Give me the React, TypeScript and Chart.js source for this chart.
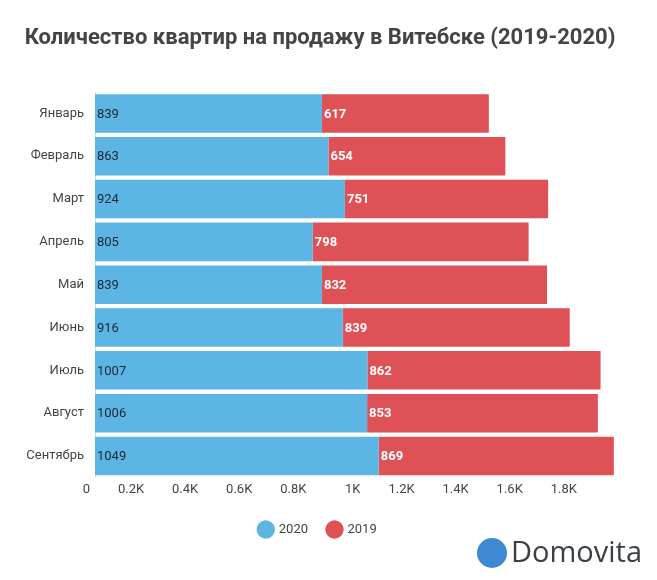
import React, { useEffect, useRef } from "react";
import { Chart, registerables } from "chart.js";

Chart.register(...registerables);

const months = ["Январь", "Февраль", "Март", "Апрель", "Май", "Июнь", "Июль", "Август", "Сентябрь"];
const values2020 = [839, 863, 924, 805, 839, 916, 1007, 1006, 1049];
const values2019 = [617, 654, 751, 798, 832, 839, 862, 853, 869];
const xTicks = [0, 200, 400, 600, 800, 1000, 1200, 1400, 1600, 1800];

const titleText = "Количество квартир на продажу в Витебске (2019-2020)";
const BLUE = "#5db5e4";
const RED = "#dd5157";

const extras = {
  id: "extras",
  afterDatasetsDraw(chart: any) {
    const ctx = chart.ctx;
    ctx.save();
    chart.data.datasets.forEach((ds: any, di: number) => {
      const meta = chart.getDatasetMeta(di);
      meta.data.forEach((bar: any, i: number) => {
        const base = bar.base;
        ctx.textBaseline = "middle";
        ctx.textAlign = "left";
        if (di === 0) {
          ctx.font = "13px Roboto";
          ctx.fillStyle = "#1b2733";
        } else {
          ctx.font = "bold 13px Roboto";
          ctx.fillStyle = "#ffffff";
        }
        ctx.fillText(String(ds.data[i]), Math.min(base, bar.x) + 2, bar.y + 1);
      });
    });
    ctx.restore();
  },
  afterDraw(chart: any) {
    const ctx = chart.ctx;
    ctx.save();
    ctx.font = "bold 22px Roboto";
    ctx.fillStyle = "#444444";
    ctx.textAlign = "center";
    ctx.textBaseline = "middle";
    ctx.fillText(titleText, 320, 38);
    ctx.fillStyle = "#3f88d2";
    ctx.beginPath();
    ctx.arc(492, 553, 15, 0, Math.PI * 2);
    ctx.fill();
    ctx.fillStyle = "#3b4045";
    ctx.font = "29px 'Open Sans'";
    ctx.textAlign = "left";
    ctx.fillText("Domovita", 511, 554);
    ctx.restore();
  },
};

export default function App() {
  const ref = useRef<HTMLCanvasElement>(null);
  useEffect(() => {
    if (!ref.current) return;
    const chart = new Chart(ref.current, {
      type: "bar",
      data: {
        labels: months,
        datasets: [
          { label: "2020", data: values2020, backgroundColor: BLUE, borderWidth: 0 },
          { label: "2019", data: values2019, backgroundColor: RED, borderWidth: 0 },
        ],
      },
      options: {
        indexAxis: "y",
        animation: false,
        responsive: false,
        layout: { padding: { top: 92, right: 21, left: 0, bottom: 34 } },
        scales: {
          x: {
            stacked: true,
            min: 0,
            max: 2000,
            afterBuildTicks: (scale: any) => {
              scale.ticks = xTicks.map((v) => ({ value: v }));
            },
            grid: { display: false, drawTicks: false },
            border: { display: false },
            ticks: {
              align: "end",
              labelOffset: -5,
              padding: 5,
              color: "#444",
              font: { family: "Roboto", size: 13 },
              callback: (v: any) => (v === 0 ? "0" : `${Number(v) / 1000}K`),
            },
          },
          y: {
            stacked: true,
            afterFit: (scale: any) => {
              scale.width = 95;
            },
            grid: { display: false, drawTicks: false },
            border: { display: true, color: "#dddddd" },
            ticks: {
              padding: 11,
              color: "#444",
              font: { family: "Roboto", size: 13 },
            },
          },
        },
        datasets: { bar: { barPercentage: 0.9, categoryPercentage: 1 } },
        plugins: {
          title: { display: false },
          tooltip: { enabled: false },
          legend: {
            position: "bottom",
            labels: {
              usePointStyle: true,
              pointStyle: "circle",
              boxWidth: 14,
              boxHeight: 14,
              padding: 20,
              color: "#444",
              font: { family: "Roboto", size: 13 },
            },
          },
        },
      } as any,
      plugins: [extras],
    });
    return () => chart.destroy();
  }, []);
  return (
    <div style={{ position: "fixed", left: 0, top: 0, width: 657, height: 580, background: "#fff" }}>
      <canvas ref={ref} width={657} height={580} style={{ width: 657, height: 580 }} />
    </div>
  );
}
